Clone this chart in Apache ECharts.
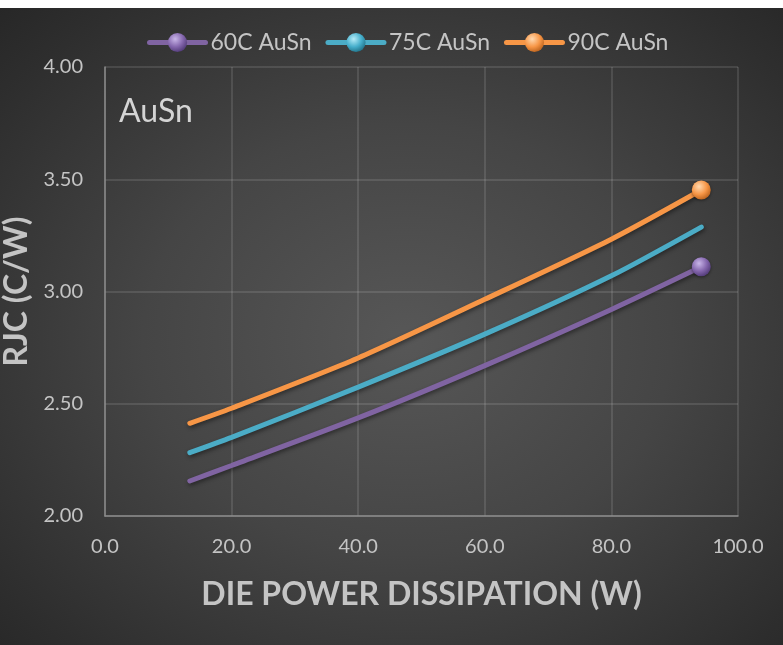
<!DOCTYPE html>
<html>
<head>
<meta charset="utf-8">
<script src="https://cdn.jsdelivr.net/npm/echarts@6/dist/echarts.min.js"></script>
<style>
  html, body { margin: 0; padding: 0; background: #ffffff; overflow: hidden; }
  #chart {
    position: absolute; left: 0; top: 8px; width: 783px; height: 637px;
    background: radial-gradient(ellipse 75% 75% at 52% 52%, #575757 0%, #454545 45%, #2e2e2e 85%, #262626 100%);
  }
</style>
</head>
<body>
<div id="chart"></div>
<script>
// Data
const power   = [13.4, 20.0, 40.0, 60.0, 80.0, 94.2];
const rjc60C  = [2.156, 2.225, 2.437, 2.670, 2.920, 3.110];
const rjc75C  = [2.282, 2.350, 2.574, 2.810, 3.070, 3.287];
const rjc90C  = [2.413, 2.480, 2.704, 2.965, 3.233, 3.452];
const seriesNames = ['60C AuSn', '75C AuSn', '90C AuSn'];
const yTicks = [2.00, 2.50, 3.00, 3.50, 4.00];
const xTicks = [0.0, 20.0, 40.0, 60.0, 80.0, 100.0];
const endMarker = [true, false, true];

const lineColors = ['#8064a2', '#4bacc6', '#f79646'];
const sphereStops = [
  ['#c9b6e8', '#8466ad', '#4b3571'],
  ['#b5ecf8', '#45aecb', '#1d6b80'],
  ['#ffd9b0', '#f79646', '#b35c18']
];

function sphere(i) {
  return {
    type: 'radial', x: 0.38, y: 0.32, r: 0.75,
    colorStops: [
      { offset: 0, color: sphereStops[i][0] },
      { offset: 0.55, color: sphereStops[i][1] },
      { offset: 1, color: sphereStops[i][2] }
    ]
  };
}

function build(values, i) {
  const data = values.map((v, k) => {
    const item = { value: [power[k], v] };
    if (!(endMarker[i] && k === values.length - 1)) item.symbol = 'none';
    return item;
  });
  return {
    name: seriesNames[i],
    type: 'line',
    smooth: 0.25,
    symbol: 'circle',
    symbolSize: 19,
    showSymbol: true,
    data: data,
    z: 3 + i,
    lineStyle: {
      color: lineColors[i], width: 5, cap: 'round',
      shadowColor: 'rgba(0,0,0,0.45)', shadowBlur: 4, shadowOffsetX: 1, shadowOffsetY: 2
    },
    itemStyle: {
      color: sphere(i), borderWidth: 0,
      shadowColor: 'rgba(0,0,0,0.45)', shadowBlur: 3, shadowOffsetY: 1
    },
    emphasis: { disabled: true }
  };
}

const chart = echarts.init(document.getElementById('chart'), null, { renderer: 'canvas' });
chart.setOption({
  backgroundColor: 'transparent',
  animation: false,
  textStyle: { fontFamily: 'Lato' },
  title: {
    text: 'AuSn', left: 114, top: 83,
    textStyle: { color: '#d4d4d4', fontSize: 32, fontWeight: 'normal', fontFamily: 'Lato' }
  },
  legend: {
    data: seriesNames,
    left: 142, top: 18,
    itemWidth: 56, itemHeight: 24, itemGap: 14,
    lineStyle: { width: 5 },
    textStyle: { color: '#c4c4c4', fontSize: 23, fontFamily: 'Lato' }
  },
  grid: { left: 105, right: 45, top: 59, bottom: 129, containLabel: false, outerBoundsMode: 'none' },
  xAxis: {
    type: 'value', min: xTicks[0], max: xTicks[xTicks.length - 1], interval: 20,
    name: 'DIE POWER DISSIPATION (W)', nameLocation: 'middle', nameGap: 63,
    nameTextStyle: { color: '#c4c4c4', fontSize: 32, fontWeight: 'bold', fontFamily: 'Lato' },
    axisLine: { show: true, lineStyle: { color: '#8a8a8a', width: 1.5 } },
    axisTick: { show: false },
    axisLabel: { color: '#c4c4c4', fontSize: 20, margin: 21, formatter: v => v.toFixed(1) },
    splitLine: { show: true, lineStyle: { color: 'rgba(255,255,255,0.15)', width: 1.5 } }
  },
  yAxis: {
    type: 'value', min: yTicks[0], max: yTicks[yTicks.length - 1], interval: 0.5,
    name: 'RJC (C/W)', nameLocation: 'middle', nameGap: 72, nameRotate: 90,
    nameTextStyle: { color: '#c4c4c4', fontSize: 32, fontWeight: 'bold', fontFamily: 'Lato' },
    axisLine: { show: true, lineStyle: { color: '#8a8a8a', width: 1.5 } },
    axisTick: { show: false },
    axisLabel: { color: '#c4c4c4', fontSize: 20, margin: 22, formatter: v => v.toFixed(2) },
    splitLine: { show: true, lineStyle: { color: 'rgba(255,255,255,0.15)', width: 1.5 } }
  },
  series: [build(rjc60C, 0), build(rjc75C, 1), build(rjc90C, 2)]
});
</script>
</body>
</html>
